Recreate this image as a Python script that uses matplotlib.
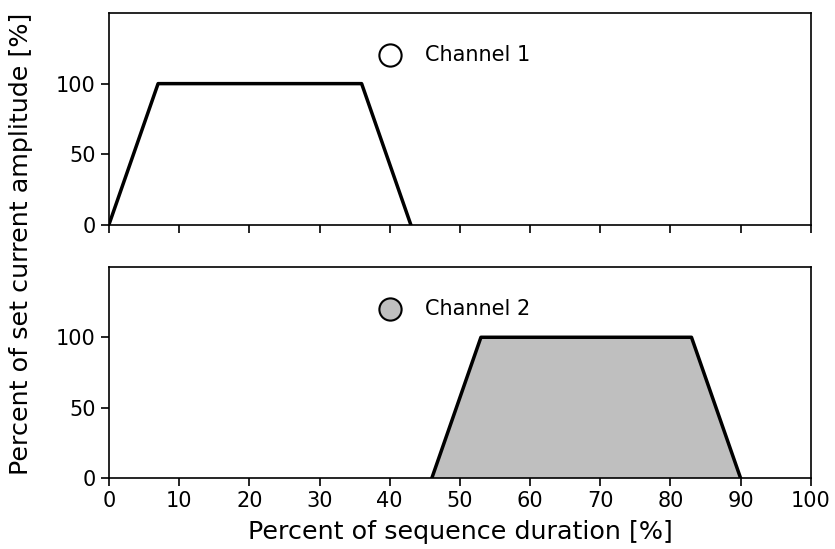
import matplotlib
matplotlib.use('Agg')
import matplotlib.pyplot as plt

# 채널별 전류 파형 (시퀀스 % , 진폭 %)
ch1_x = [0, 7, 36, 43]
ch1_y = [0, 100, 100, 0]
ch2_x = [46, 53, 83, 90]
ch2_y = [0, 100, 100, 0]

labels = ['Channel 1', 'Channel 2']
colors = ['white', '#bfbfbf']
marker_x = 40
marker_y = 120

fig, (ax1, ax2) = plt.subplots(2, 1, figsize=(8.35, 5.49), dpi=100, sharex=True)
plt.subplots_adjust(left=0.1305, right=0.971, top=0.976, bottom=0.129, hspace=0.2)

ax1.plot(ch1_x, ch1_y, color='k', linewidth=2.5)
ax1.fill(ch1_x, ch1_y, color=colors[0])
ax2.fill(ch2_x, ch2_y, facecolor=colors[1], edgecolor='none')
ax2.plot(ch2_x, ch2_y, color='k', linewidth=2.5)

for ax, lab, c in zip([ax1, ax2], labels, colors):
    ax.plot(marker_x, marker_y, 'o', markersize=16, markerfacecolor=c,
            markeredgecolor='k', markeredgewidth=1.5)
    ax.text(marker_x + 5, marker_y, lab, fontsize=15, va='center', ha='left')
    ax.set_ylim(0, 150)
    ax.set_yticks([0, 50, 100])
    ax.tick_params(labelsize=15, length=6, width=1.2)
    for sp in ax.spines.values():
        sp.set_linewidth(1.2)

ax2.set_xlim(0, 100)
ax2.set_xticks(range(0, 101, 10))
ax2.set_xlabel('Percent of sequence duration [%]', fontsize=18.3, labelpad=6)
fig.text(0.025, 0.555, 'Percent of set current amplitude [%]', rotation=90,
         fontsize=18.3, ha='center', va='center')

plt.savefig('out.png')
